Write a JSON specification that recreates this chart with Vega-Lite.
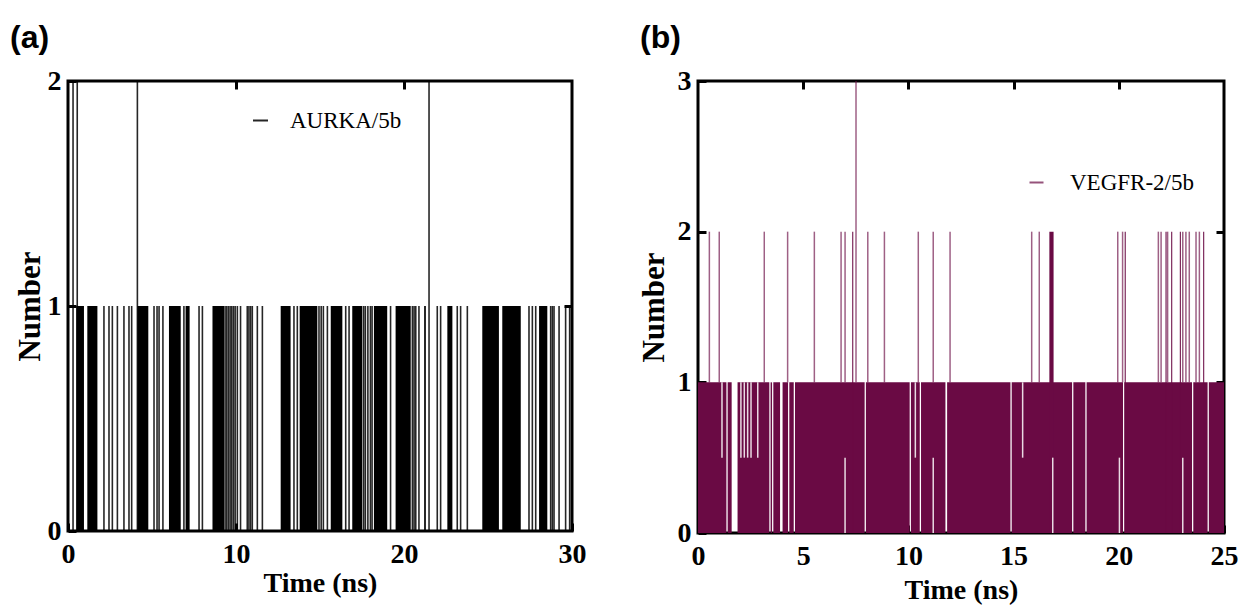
{
  "$schema": "https://vega.github.io/schema/vega-lite/v6.json",
  "background": "white",
  "padding": {"left": 8, "top": 20, "right": 0, "bottom": 0},
  "spacing": 48,
  "resolve": {"scale": {"x": "independent", "y": "independent", "color": "independent"}, "legend": {"color": "independent"}},
  "config": {
    "view": {"stroke": "black", "strokeWidth": 3},
    "axis": {
      "domain": false, "grid": false,
      "labelFont": "Liberation Serif", "labelFontWeight": "bold", "labelFontSize": 28, "labelColor": "black",
      "labelFlush": false, "labelOverlap": false,
      "titleFont": "Liberation Serif", "titleFontWeight": "bold", "titleFontSize": 28, "titleColor": "black",
      "tickColor": "black", "tickWidth": 3, "tickSize": -8, "format": "d"
    },
    "axisX": {"labelPadding": 17},
    "axisY": {"labelPadding": 15, "titleFontSize": 31}
  },
  "hconcat": [
    {
      "width": 504, "height": 450,
      "title": {"text": "(a)", "anchor": "start", "frame": "group", "dx": -58, "offset": 12, "font": "Liberation Sans", "fontSize": 32, "fontWeight": "bold", "color": "black"},
      "layer": [
        {
          "data": {"values": [
            {"t0": 0.49, "t1": 0.95, "n": 1}, {"t0": 1.15, "t1": 1.75, "n": 1}, {"t0": 4.13, "t1": 4.78, "n": 1},
            {"t0": 6.01, "t1": 6.71, "n": 1}, {"t0": 7.0, "t1": 7.24, "n": 1}, {"t0": 8.6, "t1": 9.29, "n": 1},
            {"t0": 12.66, "t1": 13.25, "n": 1}, {"t0": 13.79, "t1": 14.84, "n": 1}, {"t0": 15.64, "t1": 16.33, "n": 1},
            {"t0": 16.92, "t1": 17.52, "n": 1}, {"t0": 18.21, "t1": 19.0, "n": 1}, {"t0": 19.5, "t1": 20.4, "n": 1},
            {"t0": 21.2, "t1": 21.3, "n": 1}, {"t0": 22.58, "t1": 22.88, "n": 1}, {"t0": 24.66, "t1": 25.65, "n": 1},
            {"t0": 25.85, "t1": 26.95, "n": 1}, {"t0": 28.04, "t1": 28.53, "n": 1}
          ]},
          "mark": {"type": "rect", "color": "black"},
          "encoding": {
            "x": {"field": "t0", "type": "quantitative", "scale": {"domain": [0, 30], "nice": false},
                  "axis": {"orient": "bottom", "values": [0, 10, 20, 30], "title": "Time (ns)", "titleY": 60, "titleBaseline": "alphabetic"}},
            "x2": {"field": "t1"},
            "y": {"field": "n", "type": "quantitative", "scale": {"domain": [0, 2], "nice": false},
                  "axis": {"orient": "left", "values": [0, 1, 2], "title": "Number", "titleX": -29, "titleBaseline": "alphabetic"}},
            "y2": {"datum": 0}
          }
        },
        {
          "data": {"values": [
            {"t": 0.3, "n": 2}, {"t": 0.55, "n": 2}, {"t": 4.13, "n": 2}, {"t": 21.49, "n": 2},
            {"t": 2.14, "n": 1}, {"t": 2.44, "n": 1}, {"t": 2.64, "n": 1}, {"t": 2.94, "n": 1}, {"t": 3.33, "n": 1},
            {"t": 3.63, "n": 1}, {"t": 3.79, "n": 1}, {"t": 5.12, "n": 1}, {"t": 5.3, "n": 1}, {"t": 5.42, "n": 1},
            {"t": 5.65, "n": 1}, {"t": 6.9, "n": 1}, {"t": 7.8, "n": 1}, {"t": 8.0, "n": 1}, {"t": 9.35, "n": 1},
            {"t": 9.45, "n": 1}, {"t": 9.55, "n": 1}, {"t": 9.65, "n": 1}, {"t": 9.75, "n": 1}, {"t": 9.85, "n": 1},
            {"t": 9.95, "n": 1}, {"t": 10.08, "n": 1}, {"t": 10.27, "n": 1}, {"t": 10.67, "n": 1}, {"t": 10.77, "n": 1},
            {"t": 10.87, "n": 1}, {"t": 10.97, "n": 1}, {"t": 11.27, "n": 1}, {"t": 11.57, "n": 1}, {"t": 13.45, "n": 1},
            {"t": 13.65, "n": 1}, {"t": 14.94, "n": 1}, {"t": 15.07, "n": 1}, {"t": 15.2, "n": 1}, {"t": 15.44, "n": 1},
            {"t": 16.53, "n": 1}, {"t": 16.73, "n": 1}, {"t": 17.6, "n": 1}, {"t": 17.7, "n": 1}, {"t": 17.85, "n": 1},
            {"t": 18.0, "n": 1}, {"t": 18.1, "n": 1}, {"t": 19.2, "n": 1}, {"t": 20.5, "n": 1}, {"t": 20.6, "n": 1},
            {"t": 20.7, "n": 1}, {"t": 20.89, "n": 1}, {"t": 21.98, "n": 1}, {"t": 22.18, "n": 1}, {"t": 23.17, "n": 1},
            {"t": 23.37, "n": 1}, {"t": 23.77, "n": 1}, {"t": 27.44, "n": 1}, {"t": 27.64, "n": 1}, {"t": 27.84, "n": 1},
            {"t": 28.73, "n": 1}, {"t": 28.83, "n": 1}, {"t": 28.93, "n": 1}, {"t": 29.23, "n": 1}, {"t": 29.62, "n": 1},
            {"t": 29.86, "n": 1}
          ]},
          "mark": {"type": "rule", "strokeWidth": 1.6, "opacity": 0.85},
          "encoding": {
            "x": {"field": "t", "type": "quantitative", "axis": {"orient": "top", "values": [10, 20], "labels": false, "title": null}},
            "y": {"field": "n", "type": "quantitative", "axis": {"orient": "right", "values": [1], "labels": false, "title": null}},
            "y2": {"datum": 0},
            "color": {"datum": "AURKA/5b", "scale": {"range": ["black"]},
                      "legend": {"orient": "none", "legendX": 181, "legendY": 28, "title": null, "padding": 0,
                                 "symbolType": "stroke", "symbolStrokeWidth": 2, "symbolSize": 225,
                                 "labelFont": "Liberation Serif", "labelFontSize": 23, "labelColor": "black", "labelOffset": 18}}
          }
        }
      ]
    },
    {
      "width": 526, "height": 452,
      "title": {"text": "(b)", "anchor": "start", "frame": "group", "dx": -58, "offset": 12, "font": "Liberation Sans", "fontSize": 32, "fontWeight": "bold", "color": "black"},
      "layer": [
        {
          "data": {"values": [
            {"t0": 0, "t1": 1.35, "n": 1}, {"t0": 1.41, "t1": 1.6, "n": 1}, {"t0": 1.88, "t1": 3.39, "n": 1},
            {"t0": 3.45, "t1": 3.52, "n": 1}, {"t0": 3.58, "t1": 3.9, "n": 1}, {"t0": 4.02, "t1": 4.28, "n": 1},
            {"t0": 4.34, "t1": 4.55, "n": 1}, {"t0": 4.61, "t1": 7.92, "n": 1}, {"t0": 7.98, "t1": 10.06, "n": 1},
            {"t0": 10.12, "t1": 10.54, "n": 1}, {"t0": 10.6, "t1": 11.76, "n": 1}, {"t0": 11.84, "t1": 14.85, "n": 1},
            {"t0": 14.91, "t1": 17.78, "n": 1}, {"t0": 17.84, "t1": 18.41, "n": 1}, {"t0": 18.47, "t1": 20.2, "n": 1},
            {"t0": 20.26, "t1": 23.48, "n": 1}, {"t0": 23.54, "t1": 24.22, "n": 1}, {"t0": 24.28, "t1": 25, "n": 1},
            {"t0": 7.33, "t1": 7.38, "n": 2}, {"t0": 16.7, "t1": 16.9, "n": 2}, {"t0": 20.28, "t1": 20.33, "n": 2},
            {"t0": 22.22, "t1": 22.27, "n": 2}, {"t0": 22.49, "t1": 22.54, "n": 2}, {"t0": 22.9, "t1": 22.95, "n": 2},
            {"t0": 24.01, "t1": 24.06, "n": 2}
          ]},
          "mark": {"type": "rect", "color": "#6a0a44"},
          "encoding": {
            "x": {"field": "t0", "type": "quantitative", "scale": {"domain": [0, 25], "nice": false},
                  "axis": {"orient": "bottom", "values": [0, 5, 10, 15, 20, 25], "title": "Time (ns)", "titleY": 65, "titleBaseline": "alphabetic"}},
            "x2": {"field": "t1"},
            "y": {"field": "n", "type": "quantitative", "scale": {"domain": [0, 3], "nice": false},
                  "axis": {"orient": "left", "values": [0, 1, 2, 3], "title": "Number", "titleX": -35, "titleBaseline": "alphabetic"}},
            "y2": {"datum": 0}
          }
        },
        {
          "data": {"values": [
            {"t": 1.14, "lo": 0.5, "hi": 1}, {"t": 2.04, "lo": 0.5, "hi": 1}, {"t": 2.2, "lo": 0.5, "hi": 1},
            {"t": 2.36, "lo": 0.5, "hi": 1}, {"t": 2.52, "lo": 0.5, "hi": 1}, {"t": 2.84, "lo": 0.5, "hi": 1},
            {"t": 10.33, "lo": 0.5, "hi": 1}, {"t": 15.43, "lo": 0.5, "hi": 1},
            {"t": 6.99, "lo": 0, "hi": 0.5}, {"t": 11.18, "lo": 0, "hi": 0.5}, {"t": 16.86, "lo": 0, "hi": 0.5},
            {"t": 20.03, "lo": 0, "hi": 0.5}, {"t": 23.04, "lo": 0, "hi": 0.5}
          ]},
          "mark": {"type": "rule", "color": "white", "strokeWidth": 1.5, "opacity": 0.85},
          "encoding": {
            "x": {"field": "t", "type": "quantitative", "axis": null},
            "y": {"field": "lo", "type": "quantitative", "axis": null},
            "y2": {"field": "hi"}
          }
        },
        {
          "data": {"values": [
            {"t": 0.54, "n": 2}, {"t": 1.01, "n": 2}, {"t": 3.15, "n": 2}, {"t": 4.26, "n": 2}, {"t": 5.53, "n": 2},
            {"t": 6.8, "n": 2}, {"t": 6.99, "n": 2}, {"t": 7.51, "n": 3}, {"t": 8.07, "n": 2}, {"t": 8.86, "n": 2},
            {"t": 10.47, "n": 2}, {"t": 11.18, "n": 2}, {"t": 11.98, "n": 2}, {"t": 15.86, "n": 2}, {"t": 16.22, "n": 2},
            {"t": 19.95, "n": 2}, {"t": 20.18, "n": 2}, {"t": 21.88, "n": 2}, {"t": 22.01, "n": 2}, {"t": 22.32, "n": 2},
            {"t": 23.04, "n": 2}, {"t": 23.19, "n": 2}, {"t": 23.35, "n": 2}, {"t": 23.67, "n": 2}, {"t": 23.83, "n": 2}
          ]},
          "mark": {"type": "rule", "strokeWidth": 1.5, "opacity": 0.65},
          "encoding": {
            "x": {"field": "t", "type": "quantitative", "axis": {"orient": "top", "values": [5, 10, 15, 20], "labels": false, "title": null}},
            "y": {"field": "n", "type": "quantitative", "axis": {"orient": "right", "values": [1, 2], "labels": false, "title": null}},
            "y2": {"datum": 1},
            "color": {"datum": "VEGFR-2/5b", "scale": {"range": ["#6a0a44"]},
                      "legend": {"orient": "none", "legendX": 327, "legendY": 90, "title": null, "padding": 0,
                                 "symbolType": "stroke", "symbolStrokeWidth": 2, "symbolSize": 196, "symbolOpacity": 0.7,
                                 "labelFont": "Liberation Serif", "labelFontSize": 23, "labelColor": "black", "labelOffset": 22}}
          }
        }
      ]
    }
  ]
}
